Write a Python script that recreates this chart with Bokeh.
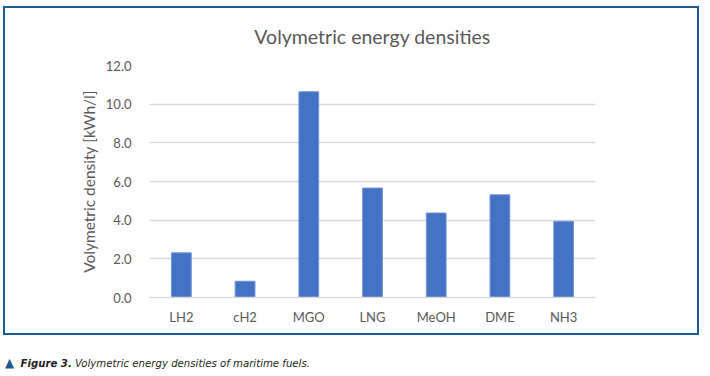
from bokeh.plotting import figure
from bokeh.models import FixedTicker, NumeralTickFormatter, Div
from bokeh.layouts import column
from bokeh.embed import file_html
from bokeh.resources import INLINE

fuels = ["LH2", "cH2", "MGO", "LNG", "MeOH", "DME", "NH3"]
densities = [2.31, 0.84, 10.64, 5.66, 4.37, 5.31, 3.94]
y_ticks = [0, 2, 4, 6, 8, 10, 12]

TEXT = "#595959"
BLUE = "#4472C4"
FRAME = "#1F5A94"
FONT = "Lato"

W, H = 696, 329
ML, MR, MT, MB = 144, 106, 56, 40

p = figure(x_range=fuels, y_range=(0, 12), width=W, height=H,
           output_backend="svg", toolbar_location=None,
           min_border_left=ML, min_border_right=MR, min_border_top=MT, min_border_bottom=MB,
           title="Volymetric energy densities")
p.margin = (6, 0, 0, 3)
p.styles = {"border": f"2px solid {FRAME}"}
p.outline_line_color = None
p.background_fill_color = "white"
p.border_fill_color = "white"

p.title.align = "center"
p.title.vertical_align = "top"
p.title.text_font = FONT
p.title.text_font_size = "19.5px"
p.title.text_font_style = "normal"
p.title.text_color = TEXT
p.title.standoff = 32

p.vbar(x=fuels, top=densities, width=0.31, fill_color=BLUE, line_color="#6f93d6", line_width=1)

p.x_range.range_padding = 0
p.xgrid.grid_line_color = None
p.ygrid.grid_line_color = "#D9D9D9"
p.ygrid.grid_line_width = 1.5

p.yaxis.ticker = FixedTicker(ticks=y_ticks)
p.yaxis.formatter = NumeralTickFormatter(format="0.0")
p.yaxis.axis_line_color = None
p.yaxis.major_tick_line_color = None
p.yaxis.minor_tick_line_color = None
p.yaxis.major_label_standoff = 12
p.yaxis.major_label_text_font = FONT
p.yaxis.major_label_text_font_size = "13px"
p.yaxis.major_label_text_color = TEXT
p.yaxis.axis_label = "Volymetric density [kWh/l]"
p.yaxis.axis_label_text_font = FONT
p.yaxis.axis_label_text_font_size = "15.5px"
p.yaxis.axis_label_text_font_style = "normal"
p.yaxis.axis_label_text_color = TEXT
p.yaxis.axis_label_standoff = 5

p.xaxis.axis_line_color = "#D9D9D9"
p.xaxis.axis_line_width = 1.5
p.xaxis.major_tick_line_color = None
p.xaxis.minor_tick_line_color = None
p.xaxis.major_label_standoff = 5
p.xaxis.major_label_text_font = FONT
p.xaxis.major_label_text_font_size = "13px"
p.xaxis.major_label_text_color = TEXT

caption = Div(
    text=(f'<span style="color:{FRAME};font-size:13px;font-style:normal;">&#9650;</span>&nbsp;&nbsp;'
          '<span style="font-weight:bold;">Figure 3.</span> '
          'Volymetric energy densities of maritime fuels.'),
    width=600, margin=(19, 0, 0, 5),
    styles={"font-family": "'Liberation Sans Narrow', 'DejaVu Sans Condensed', sans-serif",
            "font-style": "italic", "font-size": "11.3px", "color": "#231F20"})

layout = column(p, caption)
open("out.html", "w").write(file_html(layout, INLINE))
